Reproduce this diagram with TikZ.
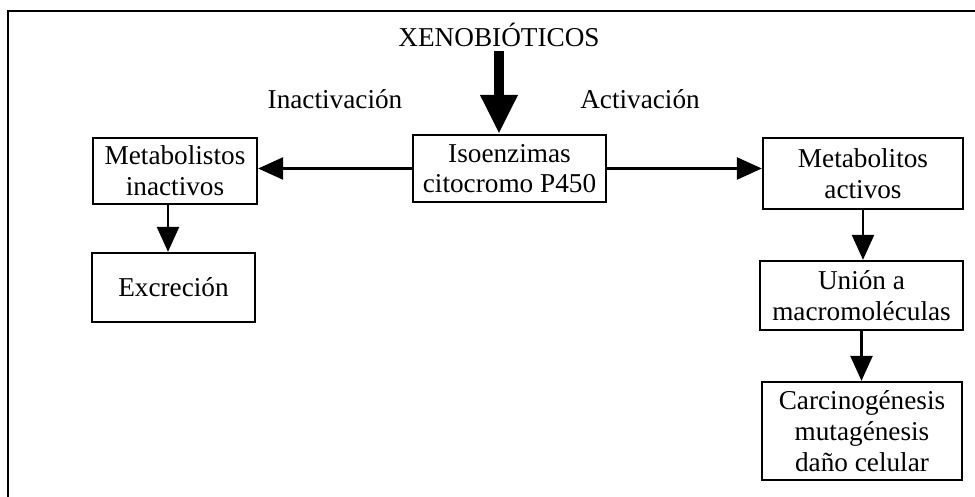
\documentclass[tikz,border=0pt]{standalone}
\usepackage{fontspec}
\setmainfont{Liberation Serif}
\usetikzlibrary{arrows.meta, positioning}
\tikzset{
    box/.style={draw, line width=1.3pt, align=center, inner sep=2pt,
        font=\fontsize{15.5}{17.5}\selectfont},
    tag/.style={font=\fontsize{15.5}{17.5}\selectfont, inner sep=2pt},
    flow/.style={line width=1.4pt, -{Triangle[length=0.5cm, width=0.44cm]}},
    bigflow/.style={line width=5.7pt, -{Triangle[length=0.78cm, width=0.7cm]}}
}

\begin{document}
\begin{tikzpicture}[x=0.02cm, y=-0.02cm]
            \useasboundingbox (0,0) rectangle (975,497);

            % Frame (cut off at right and bottom)
            \draw[line width=1.7pt] (8,497) -- (8,11) -- (975,11);

            % Source and central step
            \node[tag] (xeno) at (499,35) {XENOBIÓTICOS};
            \node[box, minimum width=193*0.02cm, minimum height=67*0.02cm] (iso) at (509.5,168.5) {Isoenzimas\\citocromo P450};
            \node[tag] (inlab) at (335,99) {Inactivación};
            \node[tag] (aclab) at (640,99) {Activación};

            % Inactivation branch
            \node[box, minimum width=164*0.02cm, minimum height=66*0.02cm] (inact) at (175,171) {Metabolistos\\inactivos};
            \node[box, minimum width=163*0.02cm, minimum height=69*0.02cm] (excr) at (173.5,287.5) {Excreción};

            % Activation branch
            \node[box, minimum width=200*0.02cm, minimum height=71*0.02cm] (act) at (863,173.5) {Metabolitos\\activos};
            \node[box, minimum width=203*0.02cm, minimum height=69*0.02cm] (union) at (861.5,295.5) {Unión a\\macromoléculas};
            \node[box, minimum width=200*0.02cm, minimum height=98*0.02cm] (carc) at (862,431) {Carcinogénesis\\mutagénesis\\daño celular};

            % Arrows
            \draw[bigflow] (xeno.south) -- (xeno.south |- iso.north);
            \draw[flow] (iso.west) -- (iso.west -| inact.east);
            \draw[flow] (iso.east) -- (iso.east -| act.west);
            \draw[flow] ([xshift=-7*0.02cm]inact.south) -- ([xshift=-7*0.02cm]inact.south |- excr.north);
            \draw[flow] (act.south) -- (act.south |- union.north);
            \draw[flow] (union.south) -- (union.south |- carc.north);
\end{tikzpicture}
\end{document}
